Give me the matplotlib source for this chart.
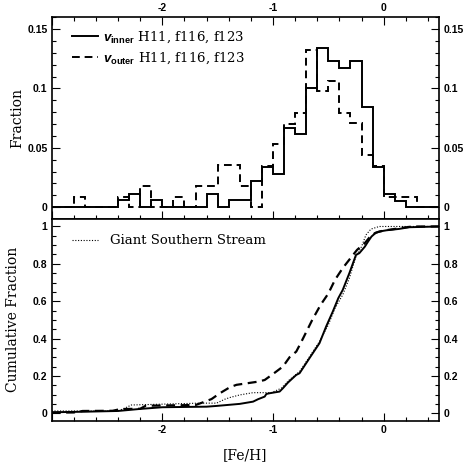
import matplotlib
matplotlib.use('Agg')
import matplotlib.pyplot as plt
import matplotlib.transforms as mtransforms
from matplotlib.ticker import MultipleLocator, FuncFormatter
import numpy as np

plt.rcParams['font.family'] = 'Liberation Sans'
plt.rcParams['font.weight'] = 'bold'
plt.rcParams['mathtext.fontset'] = 'custom'
plt.rcParams['mathtext.it'] = 'Liberation Sans:italic:bold'
plt.rcParams['mathtext.bf'] = 'Liberation Sans:bold'
plt.rcParams['mathtext.rm'] = 'DejaVu Serif'

# [Fe/H] histograms, 0.1 dex bins from -3.0 to 0.5
bin_edges = np.round(np.arange(-3.0, 0.5 + 1e-6, 0.1), 2)
frac_inner = [0, 0, 0, 0, 0, 0,
              0.0060, 0.0115, 0, 0.0058, 0, 0, 0, 0,
              0.0115, 0, 0.0058, 0.0058, 0.0220, 0.0340, 0.0276,
              0.0670, 0.0616, 0.1007, 0.1340, 0.1230, 0.1176, 0.1230,
              0.0840, 0.0335, 0.0110, 0.0053, 0, 0, 0]
frac_outer = [0, 0, 0.0087, 0, 0, 0,
              0.0087, 0, 0.0177, 0, 0, 0.0087, 0, 0.0177,
              0.0177, 0.0355, 0.0355, 0.0177, 0, 0.0350, 0.0530,
              0.0698, 0.0796, 0.1325, 0.0980, 0.1060, 0.0796, 0.0706,
              0.0439, 0.0349, 0.0087, 0.0087, 0.0087, 0, 0]

# cumulative distributions
cum_inner_x = [-3.0, -2.71, -2.40, -2.2, -2.0, -1.6, -1.51, -1.30, -1.18, -1.135,
               -1.075, -1.06, -1.03, -0.94, -0.91, -0.865, -0.79, -0.76, -0.67, -0.58,
               -0.52, -0.46, -0.41, -0.37, -0.31, -0.25, -0.22, -0.17, -0.14, -0.11,
               -0.07, -0.03, -0.01, 0.03, 0.14, 0.23, 0.5]
cum_inner_y = [0.005, 0.008, 0.012, 0.023, 0.032, 0.035, 0.039, 0.050, 0.062, 0.075,
               0.089, 0.103, 0.107, 0.116, 0.134, 0.164, 0.205, 0.214, 0.295, 0.375,
               0.464, 0.544, 0.616, 0.660, 0.750, 0.848, 0.857, 0.892, 0.920, 0.946,
               0.967, 0.973, 0.976, 0.980, 0.987, 0.996, 1.0]

cum_outer_x = [-3.0, -2.8, -2.72, -2.45, -2.38, -2.2, -2.15, -1.7, -1.615, -1.555,
               -1.48, -1.39, -1.33, -1.135, -1.075, -1.0, -0.91, -0.85, -0.79, -0.75,
               -0.645, -0.57, -0.5, -0.44, -0.37, -0.30, -0.24, -0.17, -0.13, -0.08,
               -0.04, 0.01, 0.08, 0.17, 0.26, 0.5]
cum_outer_y = [0.003, 0.004, 0.012, 0.013, 0.022, 0.024, 0.040, 0.044, 0.062, 0.076,
               0.107, 0.139, 0.152, 0.169, 0.178, 0.210, 0.250, 0.300, 0.330, 0.375,
               0.500, 0.580, 0.641, 0.714, 0.777, 0.830, 0.875, 0.911, 0.940, 0.964,
               0.973, 0.979, 0.985, 0.993, 1.0, 1.0]

cum_gss_x = [-3.0, -2.4, -2.33, -2.28, -1.66, -1.51, -1.435, -1.39, -1.30, -1.18,
             -1.015, -0.925, -0.85, -0.76, -0.67, -0.58, -0.5, -0.44, -0.37, -0.31,
             -0.25, -0.20, -0.16, -0.115, -0.04, 0.5]
cum_gss_y = [0.012, 0.012, 0.030, 0.044, 0.054, 0.054, 0.075, 0.084, 0.098, 0.110,
             0.110, 0.134, 0.180, 0.223, 0.303, 0.384, 0.473, 0.562, 0.634, 0.723,
             0.840, 0.892, 0.955, 0.986, 1.0, 1.0]

feh_labels = [-2, -1, 0]
label_inner = r'$v_{\mathbf{inner}}$ H11, f116, f123'
label_outer = r'$v_{\mathbf{outer}}$ H11, f116, f123'
label_gss = 'Giant Southern Stream'

serif = {'family': 'DejaVu Serif', 'weight': 'normal', 'size': 9.5}
dash = (0, (4, 2.5))


def fmt(v, pos):
    return '%g' % v


def fmt_feh(v, pos):
    # no label on the left edge of the axis
    if v < -2.5:
        return ''
    return '%g' % v


def style_axes(ax, labeltop, top):
    ax.tick_params(which='both', direction='in', left=True, right=True,
                   top=top, bottom=True, labelleft=True, labelright=True,
                   labeltop=labeltop, labelbottom=False, width=0.8,
                   labelsize=7.5)
    ax.tick_params(which='major', length=5.5, pad=3)
    ax.tick_params(which='minor', length=3)
    ax.xaxis.set_major_locator(MultipleLocator(1))
    ax.xaxis.set_minor_locator(MultipleLocator(0.2))
    ax.xaxis.set_major_formatter(FuncFormatter(fmt_feh))
    ax.yaxis.set_major_formatter(FuncFormatter(fmt))
    for s in ax.spines.values():
        s.set_linewidth(1.2)
    ax.set_xlim(-3.0, 0.5)


fig = plt.figure(figsize=(4.69, 4.65), dpi=100)
ax1 = fig.add_axes([0.1102, 0.529, 0.8258, 0.4338])
ax2 = fig.add_axes([0.1102, 0.0953, 0.8258, 0.4337])

ax1.stairs(frac_inner, bin_edges, baseline=None, color='k', lw=1.4, label=label_inner)
ax1.stairs(frac_outer, bin_edges, baseline=None, color='k', lw=1.4, ls=dash, label=label_outer)
style_axes(ax1, True, True)
ax1.set_ylim(-0.01, 0.16)
ax1.yaxis.set_major_locator(MultipleLocator(0.05))
ax1.yaxis.set_minor_locator(MultipleLocator(0.01))
ax1.text(-0.09, 0.5, 'Fraction', rotation=90, ha='center', va='center',
         transform=ax1.transAxes, fontdict={'family': 'DejaVu Serif', 'weight': 'normal', 'size': 10})
ax1.legend(loc='upper left', bbox_to_anchor=(0.052, 0.94), frameon=False, prop=serif,
           borderpad=0, borderaxespad=0, handlelength=2.0, handletextpad=0.4,
           labelspacing=0.4)

ax2.plot(cum_inner_x, cum_inner_y, color='k', lw=1.4)
ax2.plot(cum_outer_x, cum_outer_y, color='k', lw=1.6, ls=dash)
ax2.plot(cum_gss_x, cum_gss_y, color='k', lw=0.8, ls=(0, (1, 1.5)), label=label_gss)
style_axes(ax2, False, False)
ax2.set_ylim(-0.04, 1.04)
ax2.yaxis.set_major_locator(MultipleLocator(0.2))
ax2.yaxis.set_minor_locator(MultipleLocator(0.05))

# [Fe/H] numbers under the lower panel
xlab_tr = mtransforms.blended_transform_factory(ax2.transData, ax2.transAxes)
for v in feh_labels:
    ax2.text(v, -0.045, '%g' % v, ha='center', va='center', transform=xlab_tr,
             fontsize=7.5, fontweight='bold', family='Liberation Sans')

ax2.text(-0.099, 0.5, 'Cumulative Fraction', rotation=90, ha='center', va='center',
         transform=ax2.transAxes, fontdict={'family': 'DejaVu Serif', 'weight': 'normal', 'size': 10})
ax2.text(0.5, -0.17, '[Fe/H]', ha='center', va='center', transform=ax2.transAxes,
         fontdict={'family': 'DejaVu Serif', 'weight': 'normal', 'size': 10})
ax2.legend(loc='upper left', bbox_to_anchor=(0.052, 0.925), frameon=False, prop=serif,
           borderpad=0, borderaxespad=0, handlelength=2.0, handletextpad=0.9)

fig.savefig('out.png', dpi=100)
